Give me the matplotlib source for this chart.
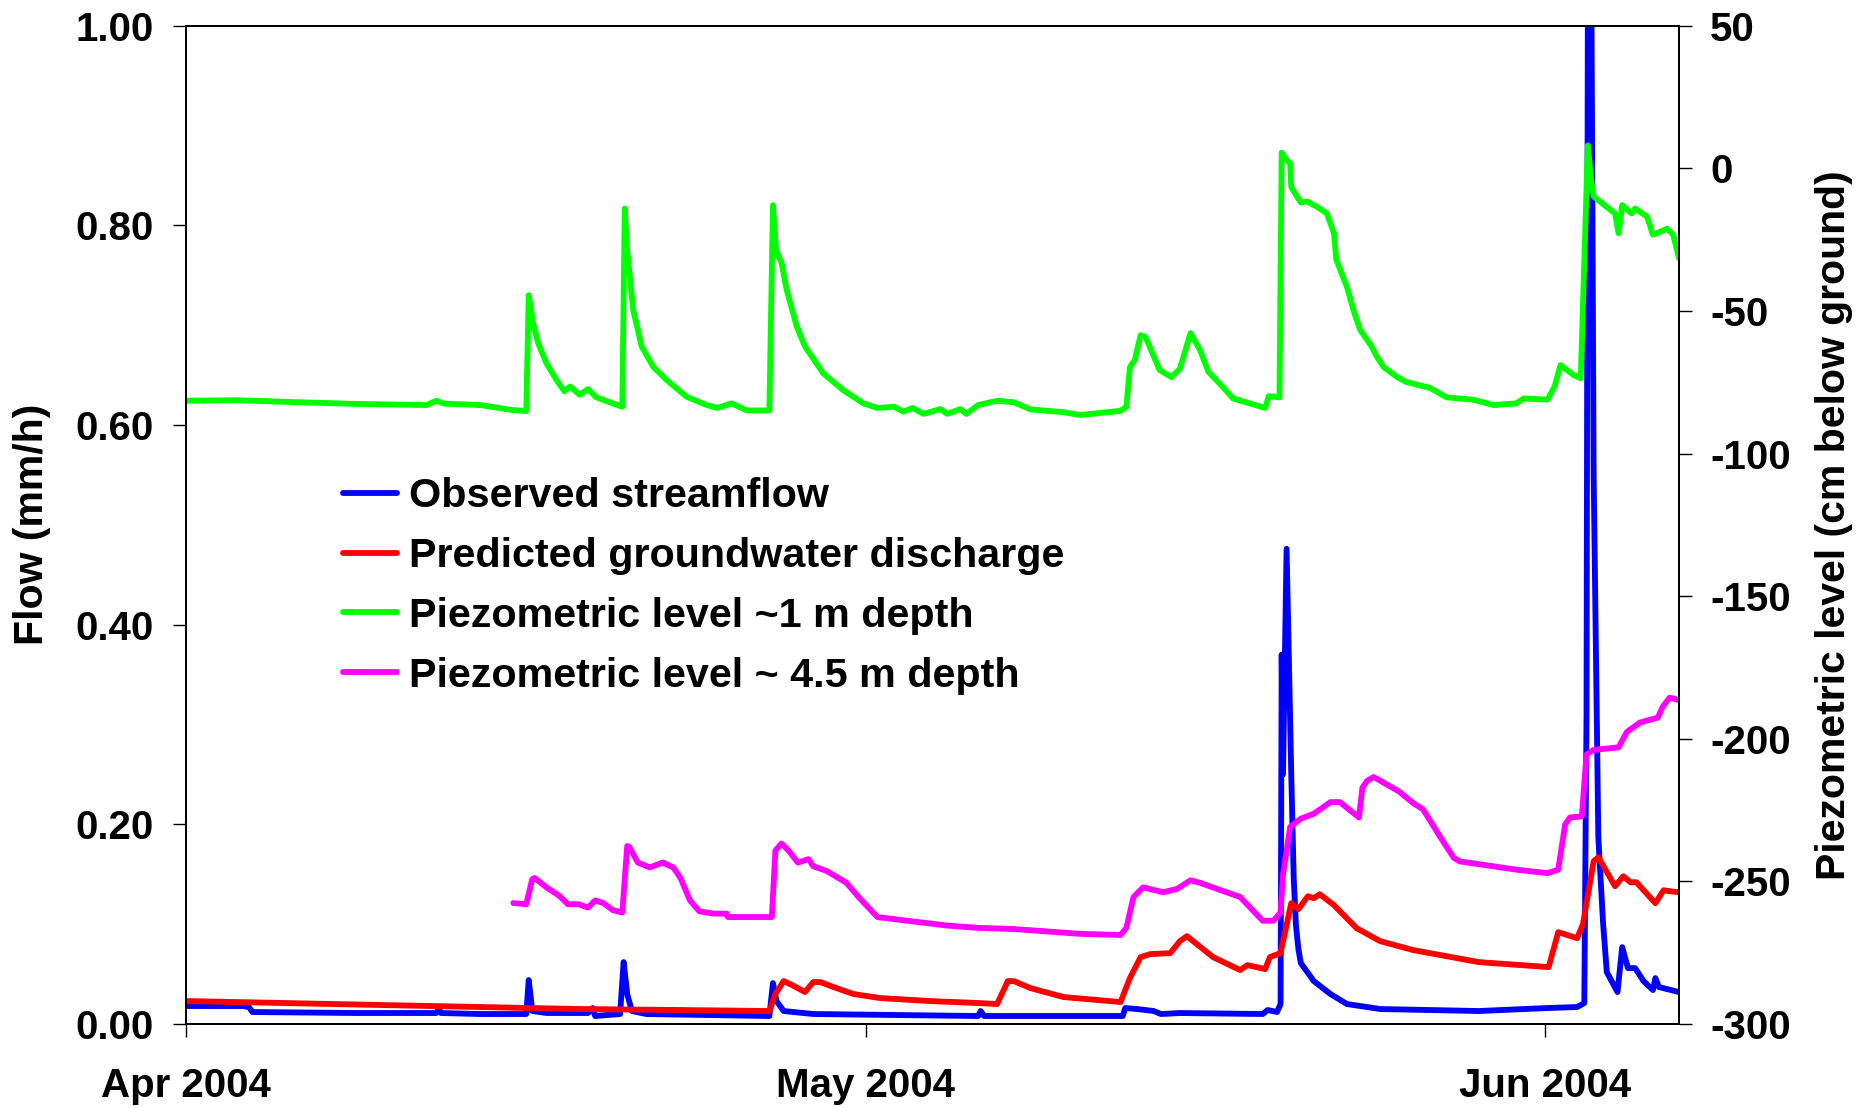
import matplotlib
matplotlib.use("Agg")
import matplotlib.pyplot as plt
from matplotlib.ticker import FixedLocator, FormatStrFormatter

plt.rcParams['font.family'] = ['Liberation Sans', 'DejaVu Sans']
plt.rcParams['font.weight'] = 'bold'
plt.rcParams['axes.unicode_minus'] = False

# ---------------- data (x = days since 1 Apr 2004) ----------------
x_tick_pos = [0, 30.5, 61]
x_tick_labels = ["Apr 2004", "May 2004", "Jun 2004"]
flow_ticks = [0.0, 0.2, 0.4, 0.6, 0.8, 1.0]
piezo_ticks = [-300, -250, -200, -150, -100, -50, 0, 50]

obs_days = [0, 2.55, 2.82, 2.98, 7.61, 11.23, 11.34, 11.44, 13.20, 15.27, 15.38, 15.54,
            16.18, 18.04, 18.25, 18.36, 19.48, 19.64, 19.80, 20.01, 20.65, 26.18, 26.34,
            26.50, 26.82, 28.15, 35.55, 35.66, 35.82, 42.04, 42.15, 42.68, 43.43, 43.75,
            44.60, 48.32, 48.54, 48.96, 49.12, 49.17, 49.23, 49.39, 49.60, 49.71, 49.81,
            49.92, 50.03, 50.61, 51.36, 52.10, 53.59, 58.01, 61.10, 62.43, 62.75, 62.85,
            62.91, 63.07, 63.17, 63.38, 63.59, 63.76, 64.24, 64.45, 64.71, 65.03, 65.41,
            65.83, 65.94, 66.10, 67.00]
obs_flow = [0.018, 0.018, 0.017, 0.012, 0.011, 0.011, 0.015, 0.011, 0.010, 0.010, 0.044, 0.013,
            0.011, 0.011, 0.016, 0.008, 0.010, 0.062, 0.030, 0.013, 0.010, 0.008, 0.041,
            0.023, 0.013, 0.010, 0.008, 0.013, 0.008, 0.008, 0.016, 0.015, 0.013, 0.010,
            0.011, 0.010, 0.014, 0.012, 0.020, 0.370, 0.250, 0.476, 0.250, 0.146, 0.099,
            0.075, 0.061, 0.043, 0.030, 0.020, 0.015, 0.013, 0.016, 0.017, 0.021, 0.310,
            1.030, 1.030, 0.550, 0.187, 0.102, 0.052, 0.032, 0.077, 0.056, 0.056, 0.043,
            0.034, 0.046, 0.037, 0.032]

gw_days = [0, 13.20, 17.67, 22.19, 26.18, 26.45, 26.82, 27.20, 27.78, 28.15, 28.47, 29.06,
           29.96, 31.14, 33.37, 35.55, 36.40, 36.88, 37.15, 37.89, 39.38, 41.94, 42.36,
           42.84, 43.27, 44.17, 44.60, 44.92, 46.09, 47.31, 47.63, 48.43, 48.64, 49.12,
           49.60, 49.92, 50.35, 50.61, 50.88, 51.52, 52.53, 53.59, 55.08, 58.01, 61.15,
           61.58, 62.43, 62.69, 63.17, 63.38, 64.13, 64.50, 64.82, 65.09, 65.94, 66.31,
           66.58, 67.00]
gw_flow = [0.023, 0.017, 0.015, 0.014, 0.013, 0.030, 0.043, 0.039, 0.032, 0.042, 0.042, 0.037,
           0.030, 0.026, 0.023, 0.021, 0.020, 0.043, 0.043, 0.036, 0.027, 0.022, 0.046,
           0.067, 0.070, 0.071, 0.083, 0.088, 0.067, 0.054, 0.059, 0.055, 0.067, 0.071,
           0.121, 0.115, 0.128, 0.126, 0.130, 0.119, 0.096, 0.083, 0.074, 0.062, 0.057,
           0.092, 0.086, 0.100, 0.163, 0.167, 0.138, 0.148, 0.142, 0.142, 0.121, 0.134,
           0.133, 0.132]

p1_days = [0, 2.29, 4.95, 7.61, 10.80, 11.23, 11.60, 13.20, 14.69, 15.27, 15.38, 15.58,
           15.81, 16.18, 16.63, 16.98, 17.24, 17.67, 18.04, 18.41, 19.58, 19.69, 19.80,
           20.07, 20.45, 20.97, 21.57, 22.47, 23.37, 23.84, 24.48, 25.17, 26.18, 26.34,
           26.48, 26.73, 26.96, 27.41, 27.78, 28.60, 29.50, 30.40, 31.03, 31.77, 32.20,
           32.62, 33.10, 33.85, 34.17, 34.75, 35.02, 35.55, 36.40, 37.15, 37.89, 39.38,
           40.13, 41.94, 42.20, 42.36, 42.58, 42.84, 43.06, 43.69, 44.22, 44.60, 45.08,
           45.50, 45.88, 46.57, 46.99, 48.43, 48.59, 49.07, 49.17, 49.39, 49.55, 49.60,
           50.03, 50.29, 50.72, 51.20, 51.52, 51.62, 52.10, 52.39, 52.69, 53.17, 53.44,
           53.75, 54.34, 54.76, 55.83, 56.57, 57.74, 58.70, 59.71, 60.03, 61.10, 61.42,
           61.68, 62.27, 62.59, 62.91, 63.07, 63.17, 63.54, 64.13, 64.29, 64.45, 64.87,
           65.03, 65.57, 65.83, 66.47, 66.74, 67.00]
p1_level = [-81.5, -81.3, -82.0, -82.6, -83.0, -81.5, -82.5, -83.0, -84.8, -85.1, -44.5, -54.4,
            -61.4, -68.4, -74.2, -78.2, -76.5, -79.4, -77.4, -80.3, -83.6, -14.1, -28.6,
            -49.7, -62.5, -69.6, -74.2, -80.1, -83.0, -84.0, -82.4, -84.9, -84.9, -12.9,
            -28.6, -33.3, -42.7, -55.5, -62.5, -71.9, -77.8, -82.4, -84.0, -83.6, -85.3,
            -84.0, -86.1, -84.4, -86.1, -84.4, -86.1, -83.0, -81.5, -82.0, -84.5, -85.5,
            -86.5, -85.0, -83.6, -69.7, -67.2, -58.5, -59.1, -70.7, -73.2, -70.3, -57.8,
            -63.6, -71.3, -77.0, -80.7, -84.0, -79.9, -80.3, 5.5, 3.0, 1.7, -6.6,
            -12.0, -11.6, -13.3, -15.8, -22.9, -32.0, -41.6, -49.7, -56.6, -62.0, -66.0,
            -69.7, -73.1, -74.9, -77.0, -80.3, -81.1, -83.0, -82.4, -80.7, -81.1, -76.5,
            -69.0, -72.5, -73.6, 8.0, -4.8, -9.9, -12.2, -15.8, -22.8, -12.9, -15.8,
            -14.1, -17.0, -23.3, -21.2, -23.3, -31.5]

p45_days = [14.69, 15.27, 15.54, 15.65, 16.18, 16.76, 17.14, 17.62, 18.04, 18.36, 18.73, 19.16,
            19.58, 19.80, 19.90, 20.28, 20.81, 21.39, 21.87, 22.19, 22.62, 23.04, 23.68,
            24.27, 24.32, 26.29, 26.45, 26.72, 27.04, 27.46, 27.94, 28.15, 28.74, 29.64,
            30.23, 31.03, 32.36, 34.17, 35.55, 37.15, 40.13, 41.94, 42.20, 42.52, 42.95,
            43.85, 44.49, 45.08, 45.50, 47.31, 48.32, 48.80, 49.12, 49.23, 49.55, 50.03,
            50.61, 51.36, 51.78, 52.64, 52.79, 53.01, 53.30, 54.44, 55.08, 55.51, 56.31,
            56.89, 57.16, 58.22, 59.71, 61.10, 61.58, 61.89, 62.11, 62.64, 62.85, 63.17,
            64.29, 64.66, 65.25, 66.05, 66.26, 66.58, 67.00]
p45_level = [-257.6, -258.0, -249.2, -248.8, -252.1, -255.1, -258.0, -258.0, -259.2, -256.7,
             -257.6, -260.1, -260.9, -237.6, -238.0, -243.4, -245.1, -243.4, -245.1, -248.8,
             -256.7, -260.5, -261.3, -261.3, -262.5, -262.5, -239.2, -236.7, -239.2, -243.4,
             -242.2, -244.7, -246.3, -250.5, -255.9, -262.5, -263.8, -265.5, -266.3, -266.7,
             -268.4, -268.8, -266.3, -255.5, -252.1, -253.8, -252.6, -249.6, -250.5, -255.5,
             -263.8, -263.8, -260.9, -247.6, -230.9, -228.0, -226.3, -222.2, -222.2, -227.6,
             -217.2, -214.7, -213.4, -218.5, -222.6, -224.7, -234.7, -241.7, -243.0, -244.2,
             -245.9, -247.1, -245.9, -230.1, -227.6, -227.2, -205.5, -203.9, -203.0, -197.6,
             -194.3, -192.6, -188.9, -185.6, -186.4]

labels = ["Observed streamflow", "Predicted groundwater discharge",
          "Piezometric level ~1 m depth", "Piezometric level ~ 4.5 m depth"]
colors = ["#0000FF", "#FF0000", "#00FF00", "#FF00FF"]

# ---------------- figure ----------------
W, H = 1859, 1108
fig = plt.figure(figsize=(W / 100, H / 100), dpi=100)
L, R, T, B = 186, 1679, 25.7, 1024
ax = fig.add_axes([L / W, 1 - B / H, (R - L) / W, (B - T) / H])
ax2 = ax.twinx()

lw = 4.2
kw = dict(lw=lw, solid_joinstyle='round', solid_capstyle='round')
h1, = ax.plot(obs_days, obs_flow, color=colors[0], label=labels[0], **kw)
h2, = ax.plot(gw_days, gw_flow, color=colors[1], label=labels[1], **kw)
h3, = ax2.plot(p1_days, p1_level, color=colors[2], label=labels[2], **kw)
h4, = ax2.plot(p45_days, p45_level, color=colors[3], label=labels[3], **kw)

ax.set_xlim(0, 67)
ax.set_ylim(0, 1.0)
ax2.set_ylim(-300, 50)

ax.xaxis.set_major_locator(FixedLocator(x_tick_pos))
ax.set_xticklabels(x_tick_labels)
ax.yaxis.set_major_locator(FixedLocator(flow_ticks))
ax.yaxis.set_major_formatter(FormatStrFormatter('%.2f'))
ax2.yaxis.set_major_locator(FixedLocator(piezo_ticks))
ax2.yaxis.set_major_formatter(FormatStrFormatter('%d'))

fs = 29
ax.tick_params(axis='x', direction='out', length=9.5, width=1.0, pad=21.5, labelsize=fs)
ax.tick_params(axis='y', direction='out', length=9.5, width=1.0, pad=14, labelsize=fs)
ax2.tick_params(axis='y', direction='out', length=9.5, width=1.0, pad=13, labelsize=fs)
for a in (ax, ax2):
    for s in a.spines.values():
        s.set_linewidth(1.4)
    for lab in a.get_xticklabels() + a.get_yticklabels():
        lab.set_fontweight('bold')

ax.set_ylabel("Flow (mm/h)", fontsize=29.5, fontweight='bold', va='center')
ax.yaxis.set_label_coords((32 - L) / (R - L), 0.5)
ax2.set_ylabel("Piezometric level (cm below ground)", fontsize=29.5, fontweight='bold',
               va='center', rotation=90)
ax2.yaxis.set_label_coords((1834 - L) / (R - L), 0.5)

fig.legend(handles=[h1, h2, h3, h4], loc='center left',
           bbox_to_anchor=(343 / W, 1 - 586 / H), frameon=False,
           prop={'size': 29.7, 'weight': 'bold'}, handlelength=1.32, handletextpad=0.27,
           labelspacing=0.53, borderpad=0, borderaxespad=0)

fig.savefig("out.png", dpi=100)
